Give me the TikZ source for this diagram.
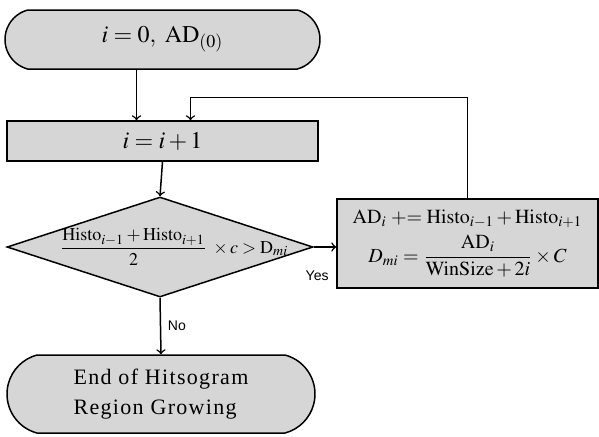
\documentclass[tikz,border=0pt]{standalone}
\usepackage{mathptmx}
\usepackage[no-math]{fontspec}
\setmainfont{Liberation Serif}
\newfontfamily\yesnofont{Liberation Sans}
\newfontfamily\widefont[LetterSpace=6]{Liberation Serif}
\usetikzlibrary{shapes.geometric, shapes.misc}
\definecolor{boxgray}{gray}{0.84}

\begin{document}
\begin{tikzpicture}[x=0.5pt, y=-0.5pt, line width=0.75pt,
    terminal/.style={rounded rectangle, rounded rectangle arc length=150, draw, fill=boxgray, inner sep=0pt},
    block/.style={rectangle, draw, fill=boxgray, inner sep=0pt},
    decision/.style={diamond, draw, fill=boxgray, inner sep=0pt},
    tag/.style={font=\yesnofont\fontsize{7}{8}\selectfont}]
            \useasboundingbox (0,0) rectangle (599,436);

            % bloky
            \node[terminal, minimum width=157.5pt, minimum height=29.5pt, font=\fontsize{12}{14}\selectfont] (start) at (162.5, 39.5)
                {$i=0,\ \mathrm{AD}_{(0)}$};
            \node[block, minimum width=155.5pt, minimum height=20pt, font=\fontsize{12}{14}\selectfont] (inc) at (162.5, 141)
                {$i=i+1$};
            \node[decision, minimum width=153pt, minimum height=50pt, font=\fontsize{9}{11}\selectfont] (cond) at (160, 247)
                {\makebox[0pt]{\hspace{14pt}$\displaystyle\frac{\mathrm{Histo}_{i-1}+\mathrm{Histo}_{i+1}}{2}\;\times c>\mathrm{D}_{mi}$}};
            \node[block, minimum width=130.5pt, minimum height=44.5pt, align=center] (upd) at (467.5, 243.5)
                {$\mathrm{AD}_i \mathrel{+{=}} \mathrm{Histo}_{i-1}+\mathrm{Histo}_{i+1}$\\[3pt]
                 $\displaystyle D_{mi}=\frac{\mathrm{AD}_i}{\mathrm{WinSize}+2i}\times C$};
            \node[terminal, minimum width=154pt, minimum height=39pt, align=left, font=\widefont\fontsize{11}{15}\selectfont] (stop) at (161, 394)
                {End of Hitsogram\\Region Growing};

            % sipky
            \draw[->] ([xshift=-13pt]start.south) -- ([xshift=-13pt]start.south |- inc.north);
            \draw[->] (inc.south) -- (cond.north);
            \draw[->] (cond.east) -- (cond.east -| upd.west) node[pos=0.15, below=8pt, tag] {Yes};
            \draw[->] (upd.north) |- ([xshift=14pt, yshift=11.5pt]inc.north) -- ([xshift=14pt]inc.north);
            \draw[->] (cond.south) -- (stop.north) node[midway, right, tag] {No};

        \end{tikzpicture}
\end{document}
